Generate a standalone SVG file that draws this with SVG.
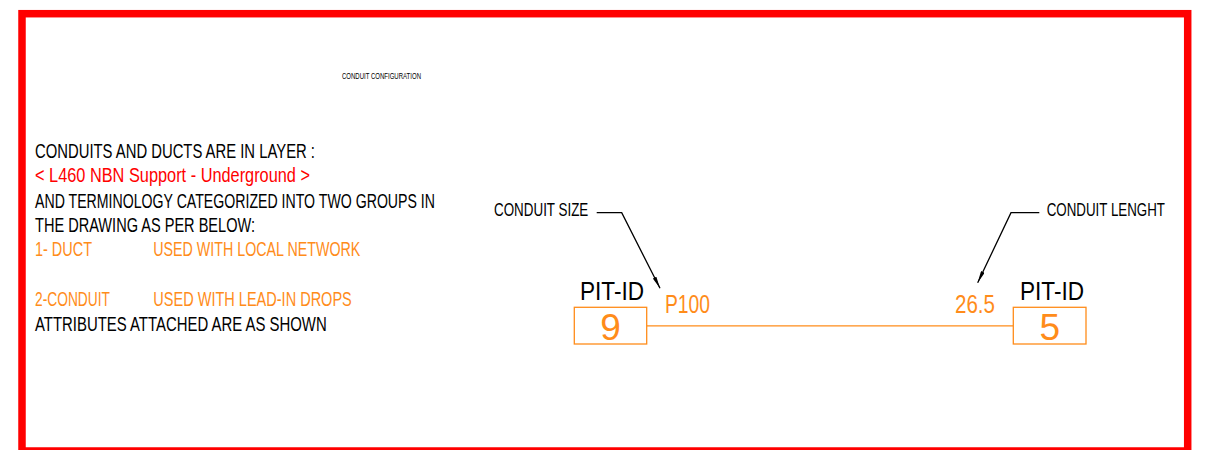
<svg xmlns="http://www.w3.org/2000/svg" width="1208" height="450" viewBox="0 0 1208 450">
<defs>
<style>
text{font-family:"Liberation Sans Narrow","Liberation Sans",Arial,sans-serif;}
.k{fill:#000000;}
.r{fill:#FF0000;}
.o{fill:#FF8C1A;}
.t{font-size:19.5px;}
.big{font-size:26.5px;}
.num{font-size:37px;}
.lbl{font-size:17.7px;}
.box{fill:none;stroke:#FF8C1A;stroke-width:1.3;}
.ld{fill:none;stroke:#000000;stroke-width:1.3;}
</style>
<marker id="ah" viewBox="0 0 12 4" refX="12" refY="2" markerWidth="12" markerHeight="4" markerUnits="userSpaceOnUse" orient="auto">
<path d="M0,0 L12,2 L0,4 Z" fill="#000000"/>
</marker>
</defs>
<rect x="0" y="0" width="1208" height="450" fill="#FFFFFF"/>
<rect id="frame" x="22" y="13.7" width="1165.7" height="437.3" fill="none" stroke="#FF0000" stroke-width="7.5"/>
<text class="k" x="342" y="79.3" font-size="9.2" textLength="79" lengthAdjust="spacingAndGlyphs">CONDUIT CONFIGURATION</text>
<g id="notes">
<text class="k t" x="35" y="157.7" textLength="280" lengthAdjust="spacingAndGlyphs">CONDUITS AND DUCTS ARE IN LAYER :</text>
<text class="r t" x="35" y="182.3" textLength="275" lengthAdjust="spacingAndGlyphs">&lt; L460 NBN Support - Underground &gt;</text>
<text class="k t" x="35" y="207.7" textLength="400" lengthAdjust="spacingAndGlyphs">AND TERMINOLOGY CATEGORIZED INTO TWO GROUPS IN</text>
<text class="k t" x="35" y="231.7" textLength="220" lengthAdjust="spacingAndGlyphs">THE DRAWING AS PER BELOW:</text>
<text class="o t" x="35" y="256" textLength="57" lengthAdjust="spacingAndGlyphs">1- DUCT</text>
<text class="o t" x="153.3" y="256" textLength="207" lengthAdjust="spacingAndGlyphs">USED WITH LOCAL NETWORK</text>
<text class="o t" x="35" y="306" textLength="75" lengthAdjust="spacingAndGlyphs">2-CONDUIT</text>
<text class="o t" x="153.3" y="306" textLength="198.5" lengthAdjust="spacingAndGlyphs">USED WITH LEAD-IN DROPS</text>
<text class="k t" x="35" y="331" textLength="291.7" lengthAdjust="spacingAndGlyphs">ATTRIBUTES ATTACHED ARE AS SHOWN</text>
</g>
<g id="connectors">
<line x1="646.7" y1="325.8" x2="1013.3" y2="325.8" stroke="#FF8C1A" stroke-width="1.3"/>
<polyline class="ld" points="596.7,212.7 621.7,212.7 660,288.3" marker-end="url(#ah)"/>
<polyline class="ld" points="1039.3,212.7 1011,212.7 977.7,282.7" marker-end="url(#ah)"/>
</g>
<g id="label-size">
<text class="k lbl" x="494" y="216" textLength="94.3" lengthAdjust="spacingAndGlyphs">CONDUIT SIZE</text>
</g>
<g id="label-length">
<text class="k lbl" x="1046.7" y="216" textLength="118.3" lengthAdjust="spacingAndGlyphs">CONDUIT LENGHT</text>
</g>
<g id="pit-9">
<text class="k big" x="580" y="300" textLength="64" lengthAdjust="spacingAndGlyphs">PIT-ID</text>
<rect class="box" x="574.3" y="307.3" width="72.4" height="36.7"/>
<text class="o num" x="610.5" y="340" text-anchor="middle">9</text>
</g>
<g id="pit-5">
<text class="k big" x="1020" y="300" textLength="64" lengthAdjust="spacingAndGlyphs">PIT-ID</text>
<rect class="box" x="1013.3" y="307.3" width="72.7" height="36.7"/>
<text class="o num" x="1049.7" y="340" text-anchor="middle">5</text>
</g>
<g id="conduit-attrs">
<text class="o big" x="665" y="312.7" textLength="45" lengthAdjust="spacingAndGlyphs">P100</text>
<text class="o big" x="955" y="312.7" textLength="40" lengthAdjust="spacingAndGlyphs">26.5</text>
</g>
</svg>
